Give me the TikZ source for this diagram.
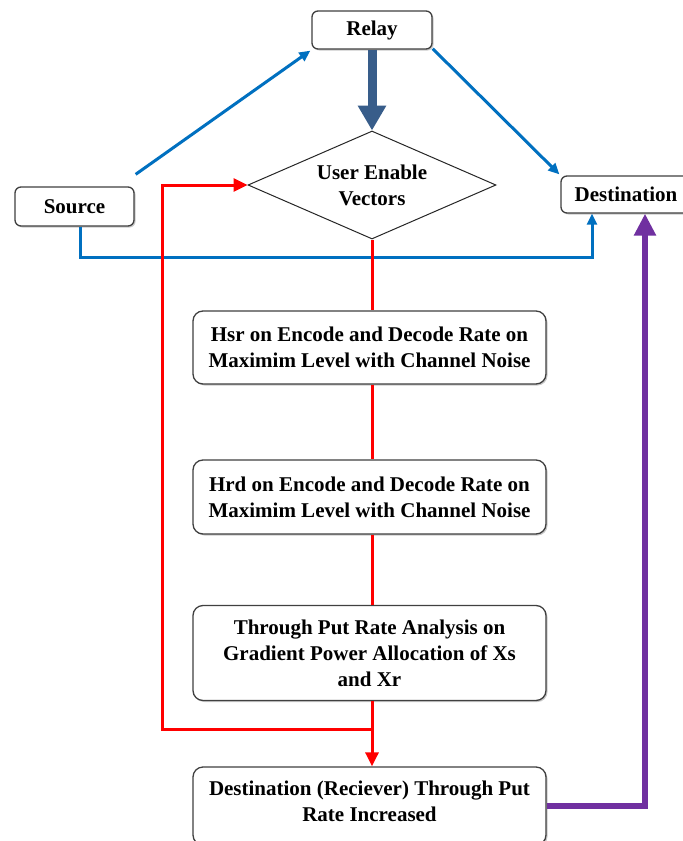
\documentclass[tikz,border=0pt]{standalone}
\usepackage{fontspec}
\setmainfont{Liberation Serif}
\usetikzlibrary{arrows.meta,shapes.geometric,calc,shadows}
\definecolor{lblue}{RGB}{0,112,192}
\definecolor{dblue}{RGB}{56,93,138}
\definecolor{purp}{RGB}{112,48,160}
\definecolor{rred}{RGB}{255,0,0}
\begin{document}
\begin{tikzpicture}[x=1bp,y=-1bp,
  txt/.style={font=\fontsize{21bp}{26bp}\selectfont\bfseries,align=center,text=black},
  box/.style={txt,draw=black!75,line width=1.3bp,rounded corners=10bp,fill=white,inner sep=0pt,
    drop shadow={shadow xshift=1.5bp,shadow yshift=-1.5bp,opacity=0.35,fill=black!60}},
  sbox/.style={box,rounded corners=6bp},
  bluearr/.style={draw=lblue,line width=3bp,-{Triangle[width=10bp,length=11bp]}},
  redl/.style={draw=rred,line width=3bp},
  redarr/.style={redl,-{Triangle[width=13bp,length=14bp]}},
  purarr/.style={draw=purp,line width=6bp,-{Triangle[width=21bp,length=22bp]}},
  bigarr/.style={draw=dblue,line width=9bp,-{Triangle[width=27bp,length=25bp]}}
]
\useasboundingbox (0,0) rectangle (683,841);
\fill[white] (0,0) rectangle (683,841);

\node[sbox,minimum width=120bp,minimum height=38bp] (relay) at (372,30) {Relay};
\node[sbox,minimum width=119bp,minimum height=39bp] (src) at (74.5,206.5) {Source};
\node[sbox,minimum width=130bp,minimum height=37bp] (dst) at (626,194.5) {Destination};
\node[diamond,draw=black!85,line width=1bp,fill=white,txt,inner sep=0pt,aspect=2.3,
  minimum width=248bp,minimum height=108bp] (diam) at (372,185) {User Enable\\Vectors};

\node[box,minimum width=353bp,minimum height=73bp] (b1) at (369.5,347.5)
  {Hsr on Encode and Decode Rate on\\Maximim Level with Channel Noise};
\node[box,minimum width=353bp,minimum height=74bp] (b2) at (369.5,497)
  {Hrd on Encode and Decode Rate on\\Maximim Level with Channel Noise};
\node[box,minimum width=353bp,minimum height=95bp] (b3) at (369.5,653)
  {Through Put Rate Analysis on\\Gradient Power Allocation of Xs\\and Xr};
\node[box,minimum width=353bp,minimum height=78bp] (b4) at (369.5,806) {};
\node[txt] (b4t) at (369.5,801) {Destination (Reciever) Through Put\\Rate Increased};

% blue connectors
\coordinate (s1) at ($(src.north east)+(1,-12)$);
\draw[bluearr] (s1) -- ($(relay.south west)+(-1,1)$);
\draw[bluearr] ($(relay.south east)+(0,-1)$) -- ($(dst.north west)+(-1,-1)$);
\coordinate (s2) at ($(src.south)+(5.5,0)$);
\coordinate (dbot) at (592,257);
\draw[bluearr] (s2) |- (dbot) -- (dbot |- dst.south);

% thick relay arrow
\draw[bigarr] (relay.south -| diam.north) -- (diam.north);

% red flow
\draw[redl] (diam.south) -- (diam.south |- b1.north);
\draw[redl] (diam.south |- b1.south) -- (diam.south |- b2.north);
\draw[redl] (diam.south |- b2.south) -- (diam.south |- b3.north);
\draw[redarr] (diam.south |- b3.south) -- (diam.south |- b4.north);
\coordinate (loopj) at (372,729);
\coordinate (loopx) at (162,0);
\draw[redarr] (loopj) -| (loopx |- diam.west) -- (diam.west);

% purple
\coordinate (px) at (645,0);
\draw[purarr] (b4.east) -| (px |- dst.south);
\end{tikzpicture}
\end{document}
